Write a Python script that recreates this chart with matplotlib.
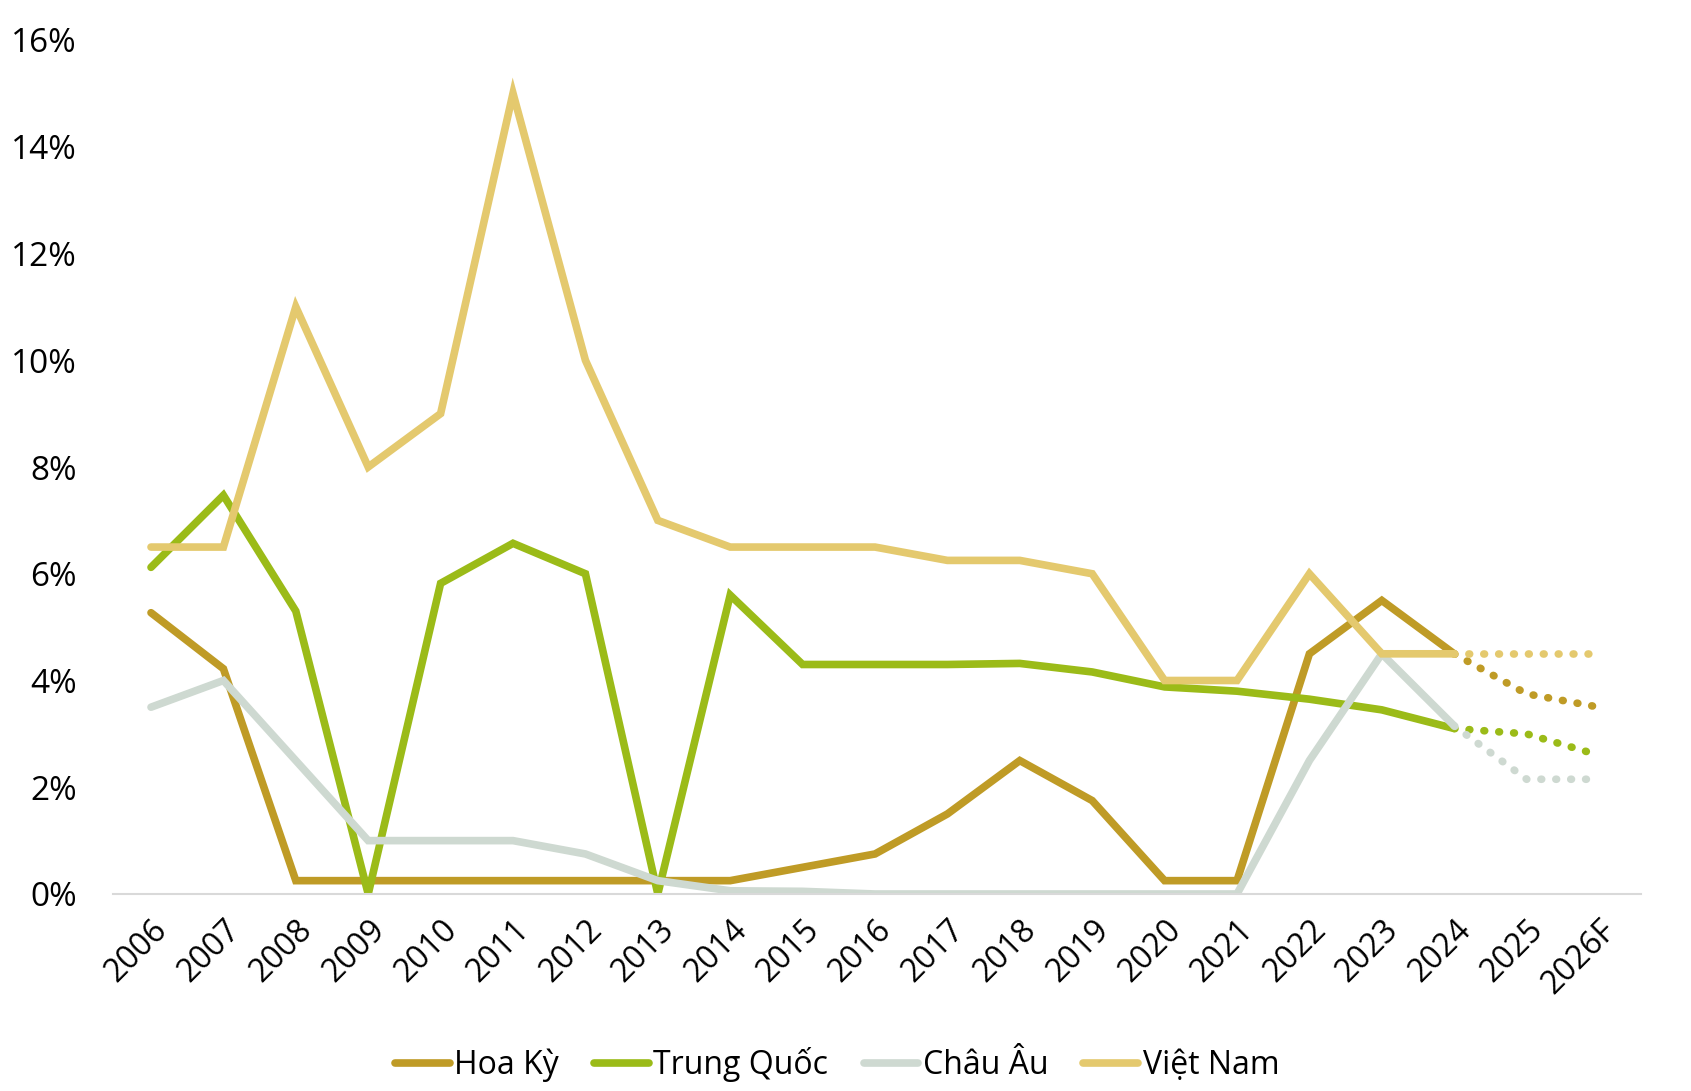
import matplotlib
matplotlib.use("Agg")
import matplotlib.pyplot as plt

years = ["2006", "2007", "2008", "2009", "2010", "2011", "2012", "2013", "2014", "2015",
         "2016", "2017", "2018", "2019", "2020", "2021", "2022", "2023", "2024", "2025", "2026F"]

# %, last two points are forecasts (drawn dotted from 2024)
hoa_ky = [5.27, 4.22, 0.25, 0.25, 0.25, 0.25, 0.25, 0.25, 0.25, 0.5,
          0.75, 1.5, 2.5, 1.75, 0.25, 0.25, 4.5, 5.5, 4.5, 3.75, 3.5]
trung_quoc = [6.12, 7.47, 5.3, 0.0, 5.82, 6.57, 6.0, 0.0, 5.6, 4.3,
              4.3, 4.3, 4.32, 4.16, 3.88, 3.8, 3.65, 3.45, 3.1, 3.0, 2.6]
chau_au = [3.5, 4.0, 2.5, 1.0, 1.0, 1.0, 0.75, 0.25, 0.06, 0.05,
           0.0, 0.0, 0.0, 0.0, 0.0, 0.0, 2.5, 4.5, 3.15, 2.15, 2.15]
viet_nam = [6.5, 6.5, 11.0, 8.0, 9.0, 15.0, 10.0, 7.0, 6.5, 6.5,
            6.5, 6.25, 6.25, 6.0, 4.0, 4.0, 6.0, 4.5, 4.5, 4.5, 4.5]

names = ["Hoa Kỳ", "Trung Quốc", "Châu Âu", "Việt Nam"]
colors = ["#BF9B26", "#9BBB18", "#CED9D1", "#E4C96E"]
series = [hoa_ky, trung_quoc, chau_au, viet_nam]

plt.rcParams["font.family"] = ["Open Sans", "DejaVu Sans"]

fig = plt.figure(figsize=(16.91, 10.91), dpi=100)
ax = fig.add_axes([113 / 1691, 1 - 894 / 1091, (1641 - 113) / 1691, (894 - 40) / 1091])

x = list(range(len(years)))
split = years.index("2024")
for name, col, vals in zip(names, colors, series):
    ax.plot(x[:split + 1], vals[:split + 1], color=col, lw=5.5,
            solid_capstyle="round", solid_joinstyle="miter", label=name)
    ax.plot(x[split:], vals[split:], color=col, lw=5.5,
            linestyle=(0, (0.1, 1.85)), dash_capstyle="round")

ax.set_xlim(-0.525, 20.58)
ax.set_ylim(0, 16)
ax.set_yticks(range(0, 17, 2))
ax.set_yticklabels([f"{v}%" for v in range(0, 17, 2)], fontsize=24)
ax.set_xticks(x)
ax.set_xticklabels(years, rotation=45, ha="right", rotation_mode="anchor", fontsize=23)
ax.tick_params(axis="both", length=0)
ax.tick_params(axis="y", pad=26)
ax.tick_params(axis="x", pad=14)

for s in ["top", "right", "left"]:
    ax.spines[s].set_visible(False)
ax.spines["bottom"].set_color("#D9D9D9")
ax.spines["bottom"].set_linewidth(1.5)

ax.legend(loc="center", bbox_to_anchor=(0.474, -0.2), ncol=4, frameon=False,
          fontsize=23, handlelength=1.7, handletextpad=0.15, columnspacing=1.1)

fig.savefig("out.png", dpi=100)
